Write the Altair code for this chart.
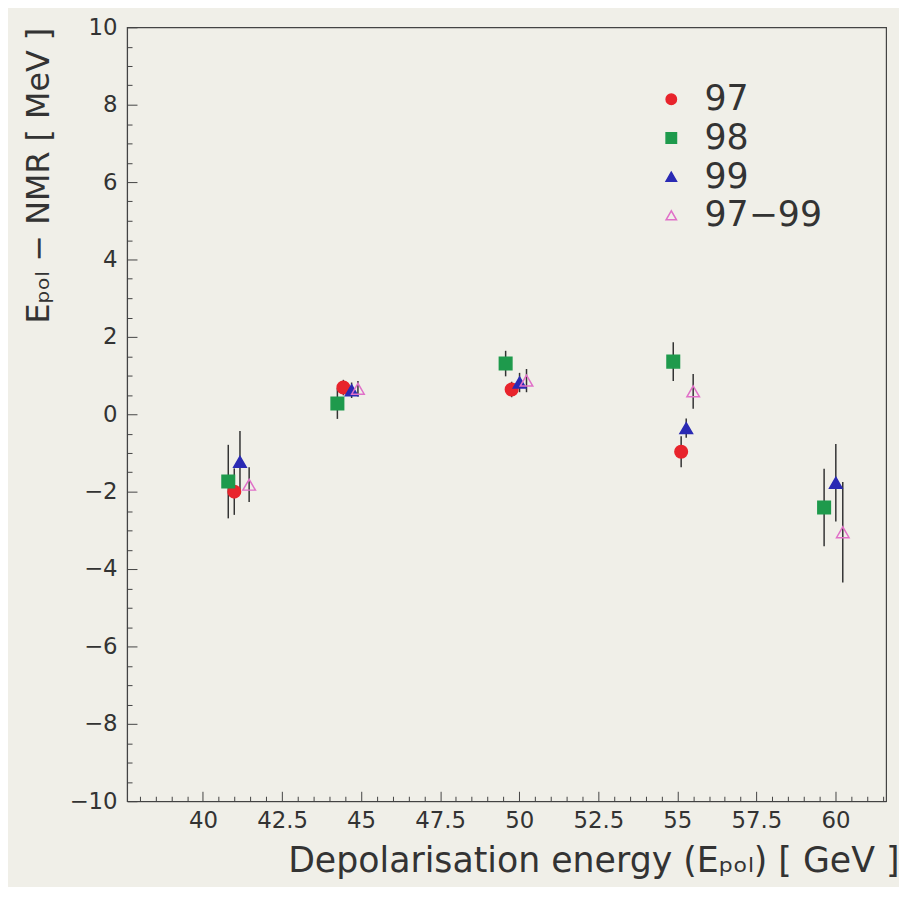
import altair as alt
import pandas as pd

# ---- data ----
series_names = ["97", "98", "99", "97−99"]

energy_97 = [40.99, 44.44, 49.76, 55.12]
value_97 = [-2.00, 0.69, 0.64, -0.97]
error_97 = [0.60, 0.20, 0.20, 0.40]

energy_98 = [40.80, 44.25, 49.57, 54.87, 59.64]
value_98 = [-1.74, 0.28, 1.31, 1.36, -2.41]
error_98 = [0.95, 0.40, 0.33, 0.50, 1.00]

energy_99 = [41.17, 44.70, 50.01, 55.28, 60.01]
value_99 = [-1.23, 0.62, 0.82, -0.36, -1.77]
error_99 = [0.80, 0.20, 0.25, 0.25, 1.00]

energy_9799 = [41.46, 44.90, 50.23, 55.50, 60.23]
value_9799 = [-1.82, 0.66, 0.87, 0.59, -3.05]
error_9799 = [0.45, 0.20, 0.30, 0.45, 1.30]

x_major = [40, 42.5, 45, 47.5, 50, 52.5, 55, 57.5, 60]
y_major = [-10, -8, -6, -4, -2, 0, 2, 4, 6, 8, 10]

rows = []
for name, xs, ys, es in [
    ("97", energy_97, value_97, error_97),
    ("98", energy_98, value_98, error_98),
    ("99", energy_99, value_99, error_99),
    ("97−99", energy_9799, value_9799, error_9799),
]:
    for x, y, e in zip(xs, ys, es):
        rows.append({"series": name, "energy": x, "value": y, "lo": y - e, "hi": y + e})
df = pd.DataFrame(rows)

x_minor = [v / 2 for v in range(76, 124) if (v / 2) not in x_major]
y_minor = [v / 2 for v in range(-20, 21) if (v / 2) not in y_major]

FONT = "DejaVu Sans"
TXT = "#333333"
x_scale = alt.Scale(domain=[37.6, 61.6], nice=False, zero=False)
y_scale = alt.Scale(domain=[-10, 10], nice=False, zero=False)

base = alt.Chart(df)

main_x_axis = alt.Axis(
    orient="bottom", values=x_major, ticks=False, grid=False,
    labelExpr="datum.value % 1 === 0 ? format(datum.value, 'd') : format(datum.value, '.1f')",
    labelFontSize=23, labelFont=FONT, labelColor=TXT, labelPadding=8,
    domainColor="#444", title="Depolarisation energy (Eₚₒₗ) [ GeV ]",
    titleFontSize=35, titleFont=FONT, titleFontWeight="normal", titleColor=TXT,
    titleAlign="right", titleX=778, titlePadding=12,
)
main_y_axis = alt.Axis(
    orient="left", values=y_major, ticks=False, grid=False,
    labelFontSize=23, labelFont=FONT, labelColor=TXT, labelPadding=10,
    domainColor="#444", title="Eₚₒₗ − NMR [ MeV ]",
    titleFontSize=32, titleFont=FONT, titleFontWeight="normal", titleColor=TXT,
    titleAnchor="end", titlePadding=14,
)

errors = base.mark_rule(color="#333333", strokeWidth=1.5).encode(
    x=alt.X("energy:Q", scale=x_scale, axis=main_x_axis),
    y=alt.Y("lo:Q", scale=y_scale, axis=main_y_axis),
    y2="hi:Q",
)

legend = alt.Legend(
    title=None, orient="none", legendX=531, legendY=55,
    labelFontSize=35, labelFont=FONT, labelColor=TXT, symbolSize=110,
    rowPadding=3, labelOffset=16, symbolStrokeWidth=1.5,
)
pts = base.mark_point(size=160, opacity=1, strokeWidth=1.5).encode(
    x=alt.X("energy:Q", scale=x_scale, axis=None),
    y=alt.Y("value:Q", scale=y_scale, axis=None),
    shape=alt.Shape("series:N", scale=alt.Scale(domain=series_names,
                    range=["circle", "square", "triangle-up", "triangle-up"]), legend=legend),
    fill=alt.Fill("series:N", scale=alt.Scale(domain=series_names,
                  range=["#e8242c", "#1e9a4c", "#2a2ab4", "transparent"]), legend=legend),
    stroke=alt.Stroke("series:N", scale=alt.Scale(domain=series_names,
                      range=["#e8242c", "#1e9a4c", "#2a2ab4", "#e070c8"]), legend=legend),
)


def tick_layer(xvals, yvals, size):
    return base.mark_point(opacity=0).encode(
        x=alt.X("energy:Q", scale=x_scale, axis=alt.Axis(
            orient="bottom", values=xvals, labels=False, domain=False, grid=False,
            tickSize=size, offset=-size, tickColor="#444", title=None)),
        y=alt.Y("value:Q", scale=y_scale, axis=alt.Axis(
            orient="left", values=yvals, labels=False, domain=False, grid=False,
            tickSize=size, offset=-size, tickColor="#444", title=None)),
    )


chart = alt.layer(
    errors, pts, tick_layer(x_major, y_major, 10), tick_layer(x_minor, y_minor, 5)
).resolve_axis(x="independent", y="independent").properties(
    width=765, height=780, background="#f0efe8",
    padding={"left": 14, "top": 5, "right": 0, "bottom": 5},
).configure_view(stroke="#444", strokeWidth=1.2)

chart.save("out.html", embed_options={"renderer": "svg", "actions": False})
